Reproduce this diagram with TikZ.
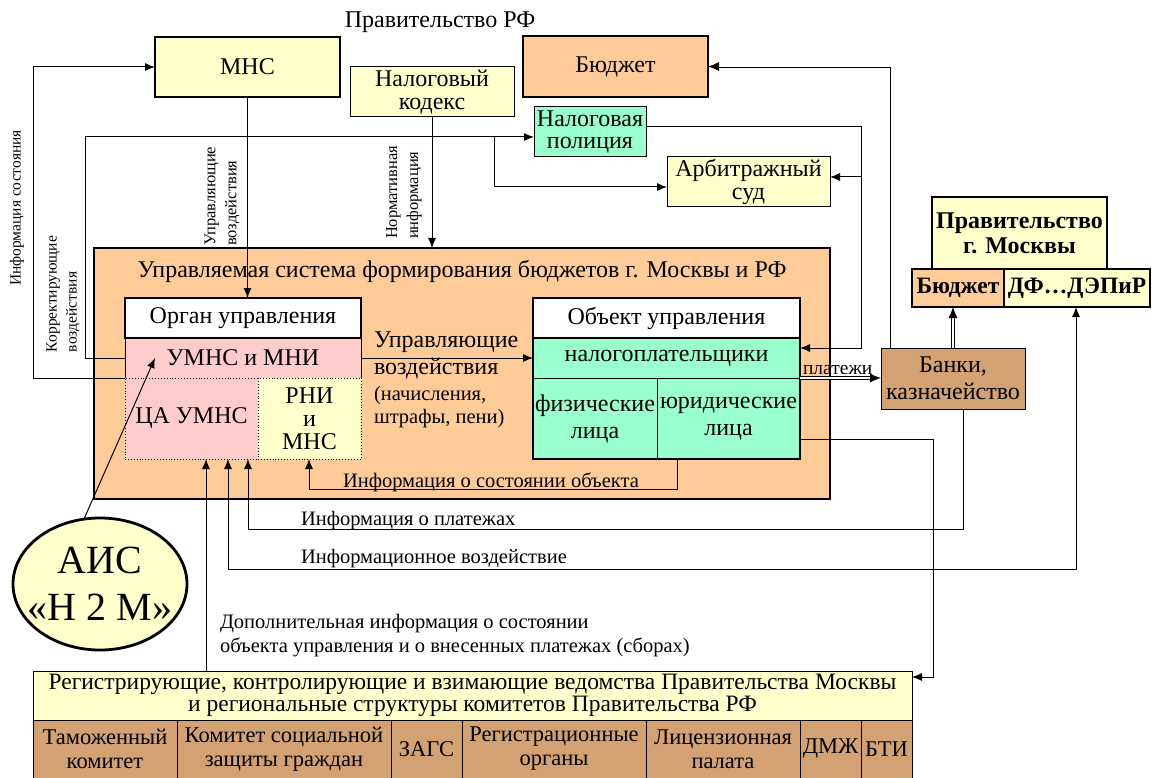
\documentclass[tikz,border=0pt]{standalone}
\usepackage{fontspec}
\setmainfont{Liberation Serif}
\usetikzlibrary{arrows.meta,shapes.geometric}
\definecolor{cyel}{HTML}{FFFFCC}
\definecolor{corg}{HTML}{FFCC99}
\definecolor{cgrn}{HTML}{99FFCC}
\definecolor{cpnk}{HTML}{FFCCCC}
\definecolor{cbrn}{HTML}{D2A273}
\newcommand{\fsz}[2]{\fontsize{#1}{#2}\selectfont}
\begin{document}
\begin{tikzpicture}[x=1pt,y=-1pt,
  every node/.style={inner sep=0pt, outer sep=0pt, align=center, font=\fsz{24}{23}},
  thinbox/.style={draw, line width=1pt, anchor=north west},
  thickbox/.style={draw, line width=2.8pt, anchor=north west},
  dotbox/.style={draw, line width=0.9pt, dotted, anchor=north west},
  cellbox/.style={thinbox, fill=cbrn, minimum height=58pt, font=\fsz{22.5}{24}},
  conn/.style={line width=1pt},
  arr/.style={conn, -{Latex[length=10pt,width=8pt]}},
  dblarr/.style={double, double distance=2pt, line width=0.8pt, -{Latex[length=11pt,width=9pt]}},
  lbl/.style={font=\fsz{20.5}{22}, anchor=base west},
  rot/.style={rotate=90, font=\fsz{16.5}{21}, align=left},
]
\useasboundingbox (0,0) rectangle (1154,778);

% title
\node[font=\fsz{24}{26}, anchor=base] (t0) at (440,28) {Правительство РФ};

% top boxes
\node[thickbox, fill=cyel, minimum width=185pt, minimum height=60pt] (mns) at (155,37) {МНС};
\node[thickbox, fill=corg, minimum width=185pt, minimum height=61pt] (bud) at (523,36) {Бюджет};
\node[thinbox, fill=cyel, minimum width=164pt, minimum height=50pt] (nk) at (350,67) {Налоговый\\кодекс};
\node[thinbox, fill=cgrn, minimum width=112pt, minimum height=50pt, font=\fsz{24}{22}] (pol) at (534,107) {Налоговая\\полиция};
\node[thinbox, fill=cyel, minimum width=163pt, minimum height=50pt] (arb) at (667,157) {Арбитражный\\суд};

% managed system
\node[thickbox, fill=corg, minimum width=736pt, minimum height=251pt] (sys) at (94,248) {};
\node[anchor=base] (st) at (462,277) {Управляемая система формирования бюджетов г. Москвы и РФ};

% organ
\node[thickbox, fill=white, minimum width=236pt, minimum height=40pt] (orgh) at (125,298) {Орган управления};
\node[thinbox, fill=cpnk, minimum width=236pt, minimum height=40pt] (umns) at (125,338) {УМНС и МНИ};
\node[dotbox, fill=cpnk, minimum width=133pt, minimum height=81pt] (ca) at (125,378) {ЦА УМНС};
\node[dotbox, fill=cyel, minimum width=103pt, minimum height=81pt] (rni) at (258,378) {РНИ\\и\\МНС};

% object
\node[thickbox, fill=white, minimum width=267pt, minimum height=40pt] (objh) at (533,298) {Объект управления};
\node[thinbox, fill=cgrn, minimum width=267pt, minimum height=40pt] (nalp) at (533,338) {налогоплательщики};
\node[thinbox, fill=cgrn, minimum width=124pt, minimum height=81pt, font=\fsz{24}{27}] (fiz) at (533,378) {физические\\лица};
\node[thinbox, fill=cgrn, minimum width=143pt, minimum height=81pt, font=\fsz{24}{27}] (yur) at (657,378) {юридические\\лица};
\draw[line width=1.8pt] (nalp.north west) rectangle (yur.south east);

% labels inside system
\node[anchor=base west] (uv1) at (374,347) {Управляющие};
\node[anchor=base west] (uv2) at (374,374) {воздействия};
\node[anchor=base west, font=\fsz{20.5}{22}] (uv3) at (374,400) {(начисления,};
\node[anchor=base west, font=\fsz{20.5}{22}] (uv4) at (374,423) {штрафы, пени)};
\node[lbl] (iso) at (343,487) {Информация о состоянии объекта};

% banks and Moscow government
\node[thinbox, fill=cbrn, minimum width=144pt, minimum height=61pt, font=\fsz{24}{27}] (banks) at (881,348) {Банки,\\казначейство};
\node[thickbox, fill=cyel, minimum width=175pt, minimum height=72pt, font=\bfseries\fsz{24}{25}] (pmos) at (932,197) {Правительство\\г. Москвы};
\node[thickbox, fill=corg, minimum width=92pt, minimum height=38pt, font=\bfseries\fsz{23.5}{23}] (mbud) at (912,269) {Бюджет};
\node[thickbox, fill=cyel, minimum width=146pt, minimum height=38pt, font=\bfseries\fsz{23.5}{23}] (dfe) at (1004,269) {ДФ…ДЭПиР};

% AIS
\node[ellipse, draw, line width=2.8pt, fill=cyel, minimum width=174pt, minimum height=132pt] (ais) at (100,584) {};
\node[font=\fsz{40}{47}] (aist) at (ais.center) {АИС\\«Н 2 М»};

% bottom block
\node[thinbox, fill=cyel, minimum width=879pt, minimum height=49pt, font=\fsz{23.5}{22}] (reg) at (33,671) {Регистрирующие, контролирующие и взимающие ведомства Правительства Москвы\\и региональные структуры комитетов Правительства РФ};
\node[cellbox, minimum width=144pt] (c1) at (33,720) {Таможенный\\комитет};
\node[cellbox, minimum width=214pt] (c2) at (177,720) {Комитет социальной\\защиты граждан};
\node[cellbox, minimum width=71pt] (c3) at (391,720) {ЗАГС};
\node[cellbox, minimum width=184pt] (c4) at (462,720) {Регистрационные\\органы};
\node[cellbox, minimum width=154pt] (c5) at (646,720) {Лицензионная\\палата};
\node[cellbox, minimum width=61pt] (c6) at (800,720) {ДМЖ};
\node[cellbox, minimum width=51pt] (c7) at (861,720) {БТИ};

% free labels
\node[lbl] (ip) at (301,525) {Информация о платежах};
\node[lbl] (iv) at (301,563) {Информационное воздействие};
\node[lbl] (dop1) at (220,628) {Дополнительная информация о состоянии};
\node[lbl] (dop2) at (220,652) {объекта управления и о внесенных платежах (сборах)};
\node[anchor=base west, font=\fsz{19.5}{20}] (pl) at (803,374) {платежи};

% rotated labels
\node[rot, anchor=west] (lb1) at (222,246) {Управляющие\\воздействия};
\node[rot, anchor=west] (lb2) at (404,239) {Нормативная\\информация};
\node[rot, anchor=west, font=\fsz{15.5}{20}] (lb3) at (63,352) {Корректирующие\\воздействия};
\node[rot, font=\fsz{15.5}{20}] (lb4) at (17,208) {Информация состояния};

% coordinates
\coordinate (k1) at (85,137);
\coordinate (k2) at (494,137);
\coordinate (k3) at (494,187);
\coordinate (s1) at (33,67);
\coordinate (p1) at (861,127);
\coordinate (p2) at (861,348);
\coordinate (p3) at (861,177);
\coordinate (d1) at (891.5,66.5);
\coordinate (i1) at (963,529);
\coordinate (i2) at (248,529);
\coordinate (v1) at (228,569);
\coordinate (v2) at (1076,569);
\coordinate (a1) at (206,671);
\coordinate (y1) at (933,439);
\coordinate (y2) at (933,677);
\coordinate (o1) at (677,489);
\coordinate (o2) at (309,489);
\coordinate (u1) at (155,358);
\coordinate (e1) at (84,519);

% connectors
\draw[arr] (mns.south) -- (mns.south |- orgh.north);
\draw[arr] (nk.south) -- (nk.south |- sys.north);
\draw[arr] (umns.west) -| (k1) -- (pol.west |- k1);
\draw[arr] (k2) -- (k3) -- (arb.west |- k3);
\draw[arr] (umns.south west) -| (s1) -- (mns.west |- s1);
\draw[arr] (pol.east |- p1) -- (p1) -- (p2) -- (nalp.east |- p2);
\draw[arr] (p3) -- (arb.east |- p3);
\draw[dblarr] (banks.north -| d1) -- (d1) -- (bud.east |- d1);
\draw[dblarr] (nalp.south east) -- (nalp.south east -| banks.west);
\draw[dblarr] (banks.north) -- (banks.north |- mbud.south);
\draw[arr] (banks.south -| i1) -- (i1) -- (i2) -- (i2 |- ca.south);
\draw[conn, {Latex[length=10pt,width=8pt]}-{Latex[length=10pt,width=8pt]}] (v1 |- ca.south) -- (v1) -- (v2) -- (v2 |- dfe.south);
\draw[arr] (a1) -- (a1 |- ca.south);
\draw[arr] (yur.east |- y1) -- (y1) -- (y2) -- (reg.east |- y2);
\draw[arr] (yur.south -| o1) -- (o1) -- (o2) -- (o2 |- rni.south);
\draw[arr] (e1) -- (u1);
\draw[arr] (umns.east) -- (nalp.west);
\end{tikzpicture}
\end{document}
